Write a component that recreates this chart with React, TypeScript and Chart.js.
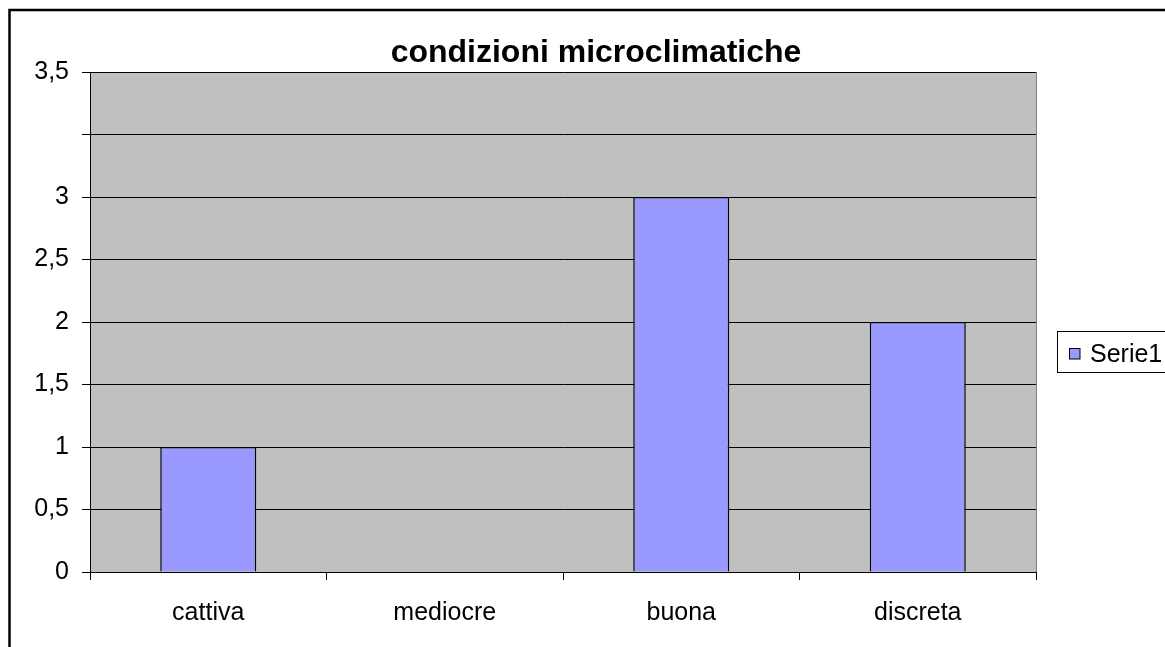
import React, { useEffect, useRef } from "react";
import { Chart, registerables } from "chart.js";

Chart.register(...registerables);

const TITLE = "condizioni microclimatiche";
const SERIES_LABEL = "Serie1";
const categories = ["cattiva", "mediocre", "buona", "discreta"];
const values = [1, 0, 3, 2];
const yMax = 4;
const yTickValues = [0, 0.5, 1, 1.5, 2, 2.5, 3, 3.5, 4];
const yTickLabels = ["0", "0,5", "1", "1,5", "2", "2,5", "3", "", "3,5"];

const FONT = "'Liberation Sans', Arial, sans-serif";
const BAR_COLOR = "#9999FF";
const PLOT_BG = "#C0C0C0";

const decorPlugin = {
  id: "decor",
  beforeDraw(chart: any) {
    const { ctx, chartArea } = chart;
    ctx.save();
    ctx.fillStyle = "#ffffff";
    ctx.fillRect(0, 0, chart.width, chart.height);
    ctx.fillStyle = PLOT_BG;
    ctx.fillRect(chartArea.left, chartArea.top, chartArea.right - chartArea.left, chartArea.bottom - chartArea.top);
    ctx.restore();
  },
  afterDraw(chart: any) {
    const { ctx, chartArea } = chart;
    ctx.save();
    // right plot border
    ctx.strokeStyle = "#808080";
    ctx.lineWidth = 1;
    ctx.beginPath();
    ctx.moveTo(chartArea.right + 0.5, chartArea.top);
    ctx.lineTo(chartArea.right + 0.5, chartArea.bottom);
    ctx.stroke();
    // outer frame
    ctx.strokeStyle = "#000000";
    ctx.lineWidth = 2.5;
    ctx.strokeRect(9.5, 10, chart.width + 50, chart.height + 50);
    // title
    ctx.fillStyle = "#000000";
    ctx.font = `bold 32px ${FONT}`;
    ctx.textAlign = "center";
    ctx.textBaseline = "alphabetic";
    ctx.fillText(TITLE, 596, 62);
    // legend
    ctx.lineWidth = 1;
    ctx.strokeRect(1057.5, 331.5, 200, 41);
    ctx.fillStyle = BAR_COLOR;
    ctx.fillRect(1069, 348, 11, 11);
    ctx.strokeRect(1069.5, 348.5, 10.5, 10.5);
    ctx.fillStyle = "#000000";
    ctx.font = `25px ${FONT}`;
    ctx.textBaseline = "alphabetic";
    ctx.textAlign = "left";
    ctx.fillText(SERIES_LABEL, 1090, 362);
    ctx.restore();
  },
};

export default function App() {
  const ref = useRef<HTMLCanvasElement | null>(null);
  useEffect(() => {
    if (!ref.current) return;
    const chart = new Chart(ref.current, {
      type: "bar",
      data: {
        labels: categories,
        datasets: [
          {
            label: SERIES_LABEL,
            data: values,
            backgroundColor: BAR_COLOR,
            borderColor: "#000000",
            borderWidth: 1.5,
            barPercentage: 0.406,
            categoryPercentage: 1,
          },
        ],
      },
      options: {
        animation: false,
        responsive: false,
        maintainAspectRatio: false,
        layout: { padding: { left: 0, right: 129, top: 72, bottom: 0 } },
        plugins: {
          legend: { display: false },
          tooltip: { enabled: false },
          title: { display: false },
        },
        scales: {
          x: {
            offset: true,
            grid: {
              offset: true,
              drawOnChartArea: false,
              drawTicks: true,
              tickLength: 8,
              color: "#000000",
            },
            border: { display: true, color: "#000000", width: 1 },
            ticks: {
              color: "#000000",
              font: { family: FONT, size: 25 },
              padding: 18,
              maxRotation: 0,
            },
            afterFit(scale: any) {
              scale.height = 75;
            },
          },
          y: {
            min: 0,
            max: yMax,
            afterBuildTicks(scale: any) {
              scale.ticks = yTickValues.map((v) => ({ value: v }));
            },
            grid: {
              color: "#000000",
              lineWidth: 1,
              drawTicks: true,
              tickLength: 8,
            },
            border: { display: true, color: "#000000", width: 1 },
            ticks: {
              color: "#000000",
              font: { family: FONT, size: 25 },
              padding: 13,
              autoSkip: false,
              callback: (v: any) => {
                const i = yTickValues.indexOf(Number(v));
                return i >= 0 ? yTickLabels[i] : "";
              },
            },
            afterFit(scale: any) {
              scale.width = 90;
            },
          },
        },
      },
      plugins: [decorPlugin],
    });
    return () => chart.destroy();
  }, []);
  return (
    <div style={{ position: "fixed", left: 0, top: 0, width: 1165, height: 647, background: "#fff" }}>
      <canvas ref={ref} width={1165} height={647} style={{ width: 1165, height: 647, display: "block" }} />
    </div>
  );
}
